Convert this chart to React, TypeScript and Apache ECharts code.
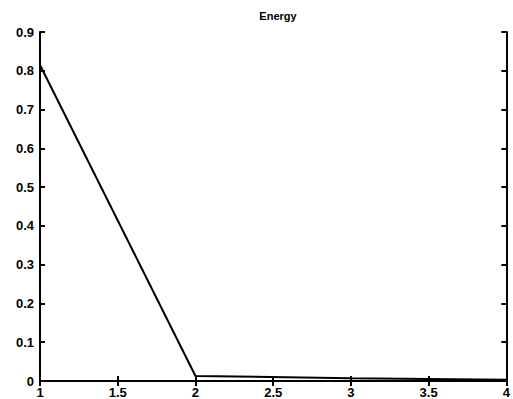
import React, { useEffect, useRef } from "react";
import * as echarts from "echarts";

const xValues = [1, 2, 3, 4];
const energy = [0.815, 0.013, 0.007, 0.003];
const xTicks = [1, 1.5, 2, 2.5, 3, 3.5, 4];
const yTicks = [0, 0.1, 0.2, 0.3, 0.4, 0.5, 0.6, 0.7, 0.8, 0.9];

export default function App() {
  const ref = useRef<HTMLDivElement>(null);
  useEffect(() => {
    if (!ref.current) return;
    const chart = echarts.init(ref.current, null, { renderer: "svg" });
    const font = "Liberation Sans, Arial, sans-serif";
    const axisLine = { show: true, lineStyle: { color: "#000", width: 2 } };
    const tick = { show: true, inside: true, length: 5, lineStyle: { color: "#000", width: 2 } };
    const label = {
      color: "#000",
      fontFamily: font,
      fontWeight: "bold" as const,
      fontSize: 13,
    };
    chart.setOption({
      animation: false,
      backgroundColor: "#fff",
      title: {
        text: "Energy",
        left: 273,
        textAlign: "center",
        top: 5,
        textStyle: { fontFamily: font, fontWeight: "bold", fontSize: 11, color: "#000" },
      },
      grid: { left: 40, top: 32, width: 467, height: 350, containLabel: false },
      xAxis: [
        {
          type: "value",
          min: xTicks[0],
          max: xTicks[xTicks.length - 1],
          interval: 0.5,
          axisLine,
          axisTick: tick,
          splitLine: { show: false },
          axisLabel: { ...label, margin: 5, formatter: (v: number) => String(v) },
        },
        {
          type: "value",
          position: "top",
          min: xTicks[0],
          max: xTicks[xTicks.length - 1],
          interval: 0.5,
          axisLine,
          axisTick: tick,
          splitLine: { show: false },
          axisLabel: { show: false },
        },
      ],
      yAxis: [
        {
          type: "value",
          min: yTicks[0],
          max: yTicks[yTicks.length - 1],
          interval: 0.1,
          axisLine,
          axisTick: tick,
          splitLine: { show: false },
          axisLabel: { ...label, margin: 6, formatter: (v: number) => String(Math.round(v * 10) / 10) },
        },
        {
          type: "value",
          position: "right",
          min: yTicks[0],
          max: yTicks[yTicks.length - 1],
          interval: 0.1,
          axisLine,
          axisTick: tick,
          splitLine: { show: false },
          axisLabel: { show: false },
        },
      ],
      series: [
        {
          type: "line",
          data: xValues.map((x, i) => [x, energy[i]]),
          showSymbol: false,
          lineStyle: { color: "#000", width: 2 },
        },
      ],
    });
    return () => chart.dispose();
  }, []);
  return (
    <div
      ref={ref}
      style={{ position: "fixed", left: 0, top: 0, width: 513, height: 399 }}
    />
  );
}
